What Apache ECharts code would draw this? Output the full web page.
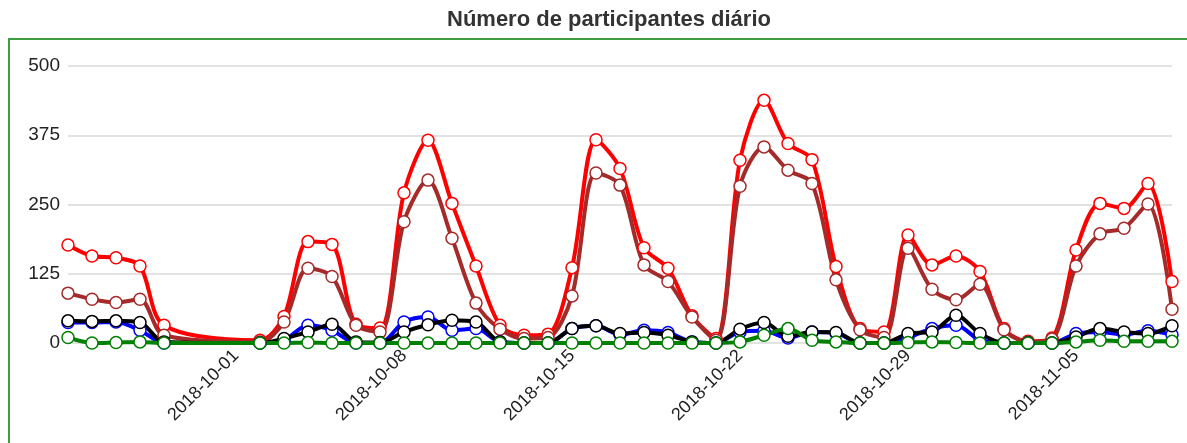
<!DOCTYPE html>
<html>
<head>
<meta charset="utf-8">
<title>Número de participantes diário</title>
<script src="https://cdn.jsdelivr.net/npm/echarts@6/dist/echarts.min.js"></script>
<style>
  html, body { margin: 0; padding: 0; background: #fff; }
  #chart { width: 1187px; height: 443px; }
</style>
</head>
<body>
<div id="chart"></div>
<script>
// dias (09-29 .. 10-01 sem dados)
var dates = [
  '2018-09-24', '2018-09-25', '2018-09-26', '2018-09-27', '2018-09-28', '2018-09-29', '2018-09-30',
  '2018-10-01', '2018-10-02', '2018-10-03', '2018-10-04', '2018-10-05', '2018-10-06', '2018-10-07',
  '2018-10-08', '2018-10-09', '2018-10-10', '2018-10-11', '2018-10-12', '2018-10-13', '2018-10-14',
  '2018-10-15', '2018-10-16', '2018-10-17', '2018-10-18', '2018-10-19', '2018-10-20', '2018-10-21',
  '2018-10-22', '2018-10-23', '2018-10-24', '2018-10-25', '2018-10-26', '2018-10-27', '2018-10-28',
  '2018-10-29', '2018-10-30', '2018-10-31', '2018-11-01', '2018-11-02', '2018-11-03', '2018-11-04',
  '2018-11-05', '2018-11-06', '2018-11-07', '2018-11-08', '2018-11-09'
];

var redData = [177, 157, 154, 139, 32, null, null,
  null, 5, 48, 183, 178, 34, 27,
  271, 366, 252, 139, 32, 14, 16,
  136, 367, 315, 172, 135, 49, 8,
  330, 438, 360, 331, 138, 26, 20,
  195, 141, 157, 129, 26, 3, 9,
  168, 252, 243, 288, 111];

var brownData = [90, 79, 73, 79, 14, null, null,
  null, 2, 38, 135, 120, 32, 20,
  219, 294, 189, 72, 25, 8, 10,
  85, 307, 285, 141, 111, 47, 5,
  283, 354, 312, 288, 114, 24, 10,
  171, 97, 78, 106, 24, 2, 7,
  139, 197, 207, 251, 61];

var blueData = [37, 37, 38, 23, 0, null, null,
  null, 0, 5, 32, 23, 0, 0,
  38, 47, 23, 26, 2, 0, 0,
  26, 31, 15, 23, 19, 2, 0,
  20, 22, 9, 20, 18, 0, 0,
  10, 26, 32, 5, 0, 0, 0,
  17, 20, 15, 22, 15];

var blackData = [40, 39, 40, 37, 2, null, null,
  null, 0, 8, 20, 34, 2, 1,
  20, 33, 41, 38, 2, 0, 0,
  26, 31, 17, 19, 14, 2, 0,
  25, 37, 12, 20, 19, 0, 0,
  17, 20, 50, 17, 0, 0, 0,
  11, 26, 20, 17, 31];

var greenData = [10, 0, 1, 2, 0, null, null,
  null, 0, 0, 1, 0, 0, 0,
  0, 0, 0, 0, 0, 0, 0,
  0, 0, 0, 0, 0, 0, 0,
  2, 14, 26, 5, 2, 0, 0,
  1, 2, 1, 0, 0, 0, 0,
  2, 5, 3, 3, 3];

var yTicks = [0, 125, 250, 375, 500];

var dom = echarts.init(document.getElementById('chart'));

function lineSeries(name, data, color) {
  return {
    name: name,
    type: 'line',
    data: data,
    smooth: 0.3,
    connectNulls: true,
    symbol: 'circle',
    symbolSize: 12,
    lineStyle: { color: color, width: 4 },
    itemStyle: { color: '#fff', borderColor: color, borderWidth: 1.5 }
  };
}

var option = {
  animation: false,
  textStyle: { fontFamily: 'Liberation Sans, Arial, sans-serif' },
  title: {
    text: 'Número de participantes diário',
    left: 447,
    top: 9,
    padding: 0,
    textStyle: { fontSize: 22, fontWeight: 'bold', color: '#333' }
  },
  graphic: [{
    type: 'rect',
    silent: true,
    shape: { x: 9, y: 39, width: 1400, height: 600 },
    style: { fill: 'none', stroke: '#3f9c3f', lineWidth: 2 }
  }],
  grid: { left: 68, right: 15, top: 66, bottom: 100, containLabel: false },
  xAxis: {
    type: 'category',
    data: dates,
    boundaryGap: false,
    axisLine: { show: false },
    axisTick: { show: false },
    splitLine: { show: false },
    axisLabel: {
      rotate: 45,
      margin: 10,
      fontSize: 18,
      color: '#222',
      interval: function (index) {
        return index > 0 && index % 7 === 0;
      }
    }
  },
  yAxis: {
    type: 'value',
    min: yTicks[0],
    max: yTicks[yTicks.length - 1],
    interval: yTicks[1] - yTicks[0],
    axisLine: { show: false },
    axisTick: { show: false },
    axisLabel: { fontSize: 19, color: '#222', margin: 8 },
    splitLine: { lineStyle: { color: '#e2e2e2', width: 2 } }
  },
  series: [
    lineSeries('red', redData, '#ff0000'),
    lineSeries('brown', brownData, '#a52a2a'),
    lineSeries('blue', blueData, '#0000ff'),
    lineSeries('black', blackData, '#000000'),
    lineSeries('green', greenData, '#008000')
  ]
};

dom.setOption(option);
window.addEventListener('resize', function () { dom.resize(); });
</script>
</body>
</html>
